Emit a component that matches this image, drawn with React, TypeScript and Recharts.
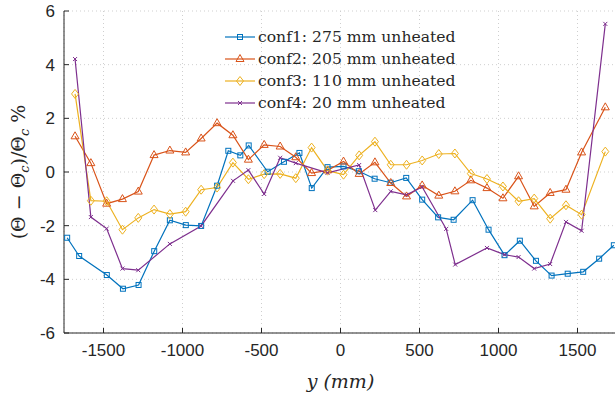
import React from "react";
import {
  CartesianGrid,
  Legend,
  Line,
  LineChart,
  XAxis,
  YAxis
} from "recharts";

// positions along y (mm) and deviation (%) for each configuration
const conf1Pos = [-1730, -1654, -1479, -1377, -1278, -1179, -1080, -979, -882, -781, -710, -634, -581, -461, -358, -260, -182, -82, 19, 116, 216, 317, 416, 517, 618, 716, 836, 937, 1038, 1135, 1237, 1336, 1438, 1536, 1637, 1730];
const conf1Val = [-2.45, -3.13, -3.84, -4.35, -4.21, -2.95, -1.8, -1.98, -2.01, -0.51, 0.79, 0.62, 0.99, 0.01, 0.38, 0.71, -0.6, 0.18, 0.21, 0.03, -0.25, -0.4, -0.22, -1.03, -1.69, -1.78, -1.05, -2.15, -3.1, -2.56, -3.31, -3.86, -3.79, -3.72, -3.23, -2.73];

const conf2Pos = [-1680, -1580, -1480, -1380, -1280, -1180, -1080, -980, -882, -781, -681, -583, -483, -382, -283, -183, -82, 19, 118, 218, 318, 418, 517, 622, 724, 825, 927, 1028, 1127, 1226, 1327, 1427, 1526, 1676];
const conf2Val = [1.33, 0.33, -1.18, -1.01, -0.73, 0.63, 0.8, 0.73, 1.25, 1.82, 1.37, 0.46, 1.01, 0.95, 0.55, -0.04, 0.06, 0.39, -0.07, 0.36, -0.41, -0.91, -0.5, -0.88, -0.72, -0.31, -0.6, -0.98, -0.16, -1.28, -0.78, -0.66, 0.73, 2.41];

const conf3Pos = conf2Pos;
const conf3Val = [2.91, -1.07, -1.09, -2.15, -1.71, -1.4, -1.57, -1.48, -0.66, -0.58, 0.35, -0.27, -0.08, -0.07, -0.23, 0.91, 0.05, -0.1, 0.62, 1.13, 0.27, 0.27, 0.43, 0.67, 0.69, -0.06, -0.26, -0.54, -1.09, -0.99, -1.74, -1.24, -1.59, 0.76];

const conf4Pos = [-1680, -1580, -1480, -1380, -1280, -1080, -882, -680, -583, -483, -382, -283, -82, 118, 220, 318, 418, 517, 669, 726, 927, 1038, 1127, 1226, 1327, 1427, 1526, 1676];
const conf4Val = [4.21, -1.68, -2.11, -3.6, -3.66, -2.68, -2.01, -0.33, 0.07, -0.82, 0.53, 0.33, -0.03, 0.26, -1.42, -0.72, -0.85, -0.56, -2.12, -3.45, -2.83, -3.08, -3.17, -3.6, -3.43, -1.86, -2.19, 5.52];

const X_TICKS = [-1500, -1000, -500, 0, 500, 1000, 1500];
const Y_TICKS = [-6, -4, -2, 0, 2, 4, 6];

const AXIS = "#262626";
const TICK_FONT = "'Liberation Sans', Arial, sans-serif";
const SERIF = "'DejaVu Serif', 'Liberation Serif', serif";

type Shape = "square" | "triangle" | "diamond" | "cross";

const series = [
  { name: "conf1: 275 mm unheated", color: "#0072BD", shape: "square" as Shape, pos: conf1Pos, val: conf1Val },
  { name: "conf2: 205 mm unheated", color: "#D95319", shape: "triangle" as Shape, pos: conf2Pos, val: conf2Val },
  { name: "conf3: 110 mm unheated", color: "#EDB120", shape: "diamond" as Shape, pos: conf3Pos, val: conf3Val },
  { name: "conf4: 20 mm unheated", color: "#7E2F8E", shape: "cross" as Shape, pos: conf4Pos, val: conf4Val }
];

const toRows = (pos: number[], val: number[]) => pos.map((p, i) => ({ y: p, v: val[i] }));

function Marker({ cx, cy, shape, color }: { cx: number; cy: number; shape: Shape; color: string }) {
  const common = { fill: "none", stroke: color, strokeWidth: 1 };
  if (shape === "square") return <rect x={cx - 2.5} y={cy - 2.5} width={5} height={5} {...common} />;
  if (shape === "triangle")
    return <polygon points={`${cx},${cy - 4.5} ${cx - 4},${cy + 2.5} ${cx + 4},${cy + 2.5}`} {...common} />;
  if (shape === "diamond")
    return <polygon points={`${cx},${cy - 4.5} ${cx + 3.5},${cy} ${cx},${cy + 4.5} ${cx - 3.5},${cy}`} {...common} />;
  return (
    <path d={`M${cx - 2},${cy - 2}L${cx + 2},${cy + 2}M${cx - 2},${cy + 2}L${cx + 2},${cy - 2}`} {...common} />
  );
}

const BottomTick = (props: any) => {
  const { x, y, payload } = props;
  return (
    <g>
      <line x1={x} y1={y} x2={x} y2={y - 5} stroke={AXIS} />
      <text x={x} y={y + 23} textAnchor="middle" fontSize={17} fontFamily={TICK_FONT} fill={AXIS}>
        {payload.value}
      </text>
    </g>
  );
};

const TopTick = (props: any) => <line x1={props.x} y1={props.y} x2={props.x} y2={props.y + 5} stroke={AXIS} />;

const LeftTick = (props: any) => {
  const { x, y, payload } = props;
  return (
    <g>
      <line x1={x} y1={y} x2={x + 5} y2={y} stroke={AXIS} />
      <text x={x - 9} y={y + 6} textAnchor="end" fontSize={17} fontFamily={TICK_FONT} fill={AXIS}>
        {payload.value}
      </text>
    </g>
  );
};

const RightTick = (props: any) => <line x1={props.x} y1={props.y} x2={props.x - 5} y2={props.y} stroke={AXIS} />;

const YLabel = (props: any) => {
  const vb = props.viewBox;
  const cx = 25;
  const cy = vb.y + vb.height / 2;
  return (
    <text
      x={cx}
      y={cy}
      transform={`rotate(-90 ${cx} ${cy})`}
      textAnchor="middle"
      fontFamily={SERIF}
      fontSize={19}
      fill={AXIS}
    >
      (Θ − Θ<tspan fontStyle="italic" fontSize={13} dy={4}>c</tspan>
      <tspan dy={-4}>)/Θ</tspan>
      <tspan fontStyle="italic" fontSize={13} dy={4}>c</tspan>
      <tspan dy={-4}> %</tspan>
    </text>
  );
};

const XLabel = (props: any) => {
  const vb = props.viewBox;
  return (
    <text x={vb.x + vb.width / 2} y={vb.y + 55} textAnchor="middle" fontFamily={SERIF} fontSize={19} fontStyle="italic" fill={AXIS}>
      y (mm)
    </text>
  );
};

const LegendBox = () => (
  <svg width={260} height={90} style={{ display: "block" }}>
    {series.map((s, i) => {
      const cy = 11 + i * 22;
      return (
        <g key={s.name}>
          <line x1={10} y1={cy} x2={40} y2={cy} stroke={s.color} strokeWidth={1.2} />
          <Marker cx={25} cy={cy} shape={s.shape} color={s.color} />
          <text x={43} y={cy + 5} fontFamily={SERIF} fontSize={15.6} fill={AXIS}>
            {s.name}
          </text>
        </g>
      );
    })}
  </svg>
);

export default function App() {
  return (
    <div style={{ position: "fixed", left: 0, top: 0, width: 615, height: 398, overflow: "hidden", background: "#fff" }}>
      <LineChart width={620} height={398} margin={{ top: 11, right: 3, bottom: 0, left: 0 }}>
        <CartesianGrid stroke="#cfcfcf" strokeDasharray="1 3" />
        <XAxis
          type="number"
          dataKey="y"
          domain={[-1750, 1750]}
          ticks={X_TICKS}
          allowDataOverflow
          height={65}
          tickSize={0}
          tickMargin={0}
          tick={BottomTick}
          axisLine={{ stroke: AXIS }}
          label={XLabel}
        />
        <XAxis
          xAxisId="top"
          orientation="top"
          type="number"
          domain={[-1750, 1750]}
          ticks={X_TICKS}
          height={0}
          tickSize={0}
          tickMargin={0}
          tick={TopTick}
          axisLine={{ stroke: AXIS }}
        />
        <YAxis
          type="number"
          domain={[-6, 6]}
          ticks={Y_TICKS}
          allowDataOverflow
          width={64}
          tickSize={0}
          tickMargin={0}
          tick={LeftTick}
          axisLine={{ stroke: AXIS }}
          label={YLabel}
        />
        <YAxis
          yAxisId="right"
          orientation="right"
          type="number"
          domain={[-6, 6]}
          ticks={Y_TICKS}
          width={0}
          tickSize={0}
          tickMargin={0}
          tick={RightTick}
          axisLine={{ stroke: AXIS }}
        />
        {series.map((s) => (
          <Line
            key={s.name}
            data={toRows(s.pos, s.val)}
            dataKey="v"
            name={s.name}
            stroke={s.color}
            strokeWidth={1.2}
            isAnimationActive={false}
            dot={(p: any) => <Marker key={`${s.name}-${p.index}`} cx={p.cx} cy={p.cy} shape={s.shape} color={s.color} />}
            activeDot={false}
          />
        ))}
        <Legend
          layout="vertical"
          align="center"
          verticalAlign="middle"
          content={LegendBox}
          wrapperStyle={{ position: "absolute", left: 215, top: 26, width: 260, height: 90 }}
        />
      </LineChart>
    </div>
  );
}
